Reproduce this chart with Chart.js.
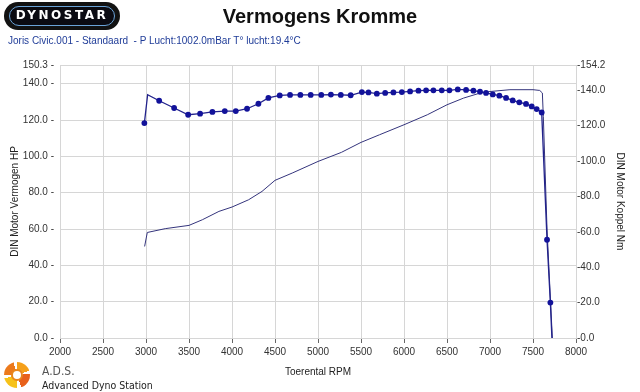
<!DOCTYPE html>
<html><head><meta charset="utf-8">
<script src="https://cdn.jsdelivr.net/npm/chart.js@4.4.1/dist/chart.umd.min.js"></script>
<style>
html,body{margin:0;padding:0;background:#fff;}
#wrap{position:relative;width:640px;height:392px;overflow:hidden;background:#fff;}
#c{position:absolute;left:0;top:0;}
#title{position:absolute;left:0;top:5px;width:640px;text-align:center;font:bold 20px "Liberation Sans",Arial,sans-serif;line-height:22px;color:#111;}
#sub{position:absolute;left:8px;top:35px;font:10px "Liberation Sans",Arial,sans-serif;line-height:12px;color:#1f3c98;white-space:pre;}
#logo{position:absolute;left:4px;top:2px;width:116px;height:28px;border-radius:14px;background:#121212;}
#logo .inner{position:absolute;left:5px;top:4px;right:5px;bottom:4px;border:1.5px solid #6aa3d8;border-radius:10px;background:#0b0b12;color:#fff;font:bold 12px "DejaVu Sans",sans-serif;letter-spacing:2.5px;text-align:center;line-height:17px;}
#ads{position:absolute;left:4px;top:362px;width:26px;height:26px;border-radius:50%;
 background:conic-gradient(#f5a01a 0deg 70deg,#fff 70deg 85deg,#e8611b 85deg 160deg,#fff 160deg 180deg,#f6c21a 180deg 255deg,#fff 255deg 270deg,#ec7a1c 270deg 345deg,#fff 345deg);}
#ads::after{content:"";position:absolute;left:7px;top:7px;width:8px;height:8px;border-radius:50%;background:#fff;border:2px solid #e9861c;}
#ads1{position:absolute;left:42px;top:364px;font:12px "DejaVu Sans Condensed","DejaVu Sans",sans-serif;color:#555;line-height:14px;}
#ads2{position:absolute;left:42px;top:379px;font:10.5px "DejaVu Sans Condensed","DejaVu Sans",sans-serif;color:#222;line-height:12px;}
</style></head>
<body><div id="wrap">
<canvas id="c" width="640" height="392"></canvas>
<div id="logo"><div class="inner">DYNOSTAR</div></div>
<div id="title">Vermogens Kromme</div>
<div id="sub">Joris Civic.001 - Standaard  - P Lucht:1002.0mBar T° lucht:19.4°C</div>
<div id="ads"></div>
<div id="ads1">A.D.S.</div>
<div id="ads2">Advanced Dyno Station</div>
</div>
<script>
// ---- data ----
const rpmTicks = [2000, 2500, 3000, 3500, 4000, 4500, 5000, 5500, 6000, 6500, 7000, 7500, 8000];
const hpTicks = [0, 20, 40, 60, 80, 100, 120, 140, 150.3];
const nmTicks = [0, 20, 40, 60, 80, 100, 120, 140, 154.2];

const torqueRpm = [2981, 3019, 3153, 3327, 3490, 3629, 3772, 3916, 4044, 4175, 4307, 4423, 4555, 4675, 4795, 4915, 5038, 5150, 5265, 5380, 5510, 5587, 5684, 5781, 5877, 5975, 6071, 6168, 6257, 6342, 6439, 6528, 6625, 6722, 6807, 6884, 6954, 7032, 7109, 7187, 7264, 7341, 7419, 7485, 7543, 7601, 7663, 7702, 7720];
const torqueNm = [121.4, 137.4, 134.0, 129.9, 126.1, 126.7, 127.7, 128.2, 128.2, 129.5, 132.3, 135.6, 137.0, 137.3, 137.3, 137.3, 137.3, 137.5, 137.3, 137.1, 138.9, 138.7, 138.0, 138.4, 138.7, 138.9, 139.3, 139.7, 139.9, 139.9, 139.9, 139.9, 140.4, 140.1, 139.7, 139.1, 138.4, 137.6, 136.9, 135.6, 134.2, 133.1, 132.2, 130.8, 129.3, 127.4, 55.5, 20.0, 0.0];

const powerRpm = [2984, 3015, 3224, 3500, 3655, 3848, 4000, 4193, 4349, 4500, 4700, 5000, 5272, 5500, 5716, 6000, 6271, 6500, 6694, 6888, 7000, 7232, 7500, 7578, 7609, 7620, 7663, 7702, 7725];
const powerHp = [50.4, 58.1, 60.2, 62.0, 65.1, 69.7, 72.1, 76.1, 80.7, 86.8, 90.8, 97.2, 102.2, 107.7, 111.9, 117.4, 122.9, 128.4, 132.1, 134.9, 135.7, 136.7, 136.7, 136.3, 134.9, 122.0, 60.0, 22.0, 0.0];

const torquePts = torqueRpm.map((r, i) => ({x: r, y: torqueNm[i]}));
const powerPts = powerRpm.map((r, i) => ({x: r, y: powerHp[i]}));
const lastT = torquePts.length - 1;

const FONT = {family: '"Liberation Sans", Arial, sans-serif', size: 10};
const GRID = '#d6d6d6';

new Chart(document.getElementById('c'), {
  type: 'line',
  data: {
    datasets: [
      {
        label: 'DIN Motor Koppel Nm',
        data: torquePts,
        yAxisID: 'yR',
        borderColor: '#22228c',
        borderWidth: 1.3,
        pointRadius: ctx => (ctx.dataIndex === 1 || ctx.dataIndex === lastT) ? 0 : 2.9,
        pointBackgroundColor: '#12129a',
        pointBorderWidth: 0,
        tension: 0
      },
      {
        label: 'DIN Motor Vermogen HP',
        data: powerPts,
        yAxisID: 'yL',
        borderColor: '#34347c',
        borderWidth: 1,
        pointRadius: 0,
        tension: 0
      }
    ]
  },
  options: {
    responsive: false,
    animation: false,
    layout: {padding: {top: 65, left: 0, right: 0, bottom: 0}},
    plugins: {legend: {display: false}, tooltip: {enabled: false}},
    scales: {
      x: {
        type: 'linear', min: 2000, max: 8000,
        afterBuildTicks: a => { a.ticks = rpmTicks.map(v => ({value: v})); },
        afterFit: s => { s.height = 54; },
        ticks: {font: FONT, color: '#333', padding: 3, maxRotation: 0, callback: v => String(v)},
        grid: {color: GRID, tickColor: '#666', tickLength: 5},
        border: {color: GRID},
        title: {display: true, text: 'Toerental RPM', font: FONT, color: '#222', padding: {top: 0, bottom: 14}}
      },
      yL: {
        position: 'left', min: 0, max: 150.3,
        afterBuildTicks: a => { a.ticks = hpTicks.map(v => ({value: v})); },
        afterFit: s => { s.width = 60; },
        ticks: {font: FONT, color: '#333', padding: 6, callback: v => v.toFixed(1) + ' -'},
        grid: {color: GRID, drawTicks: false},
        border: {color: GRID},
        title: {display: true, text: 'DIN Motor Vermogen HP', font: FONT, color: '#222', padding: {top: 9, bottom: 0}}
      },
      yR: {
        position: 'right', min: 0, max: 154.2,
        afterBuildTicks: a => { a.ticks = nmTicks.map(v => ({value: v})); },
        afterFit: s => { s.width = 64; },
        ticks: {font: FONT, color: '#333', padding: 1, callback: v => '-' + v.toFixed(1)},
        grid: {drawOnChartArea: false, drawTicks: false},
        border: {color: GRID},
        title: {display: true, text: 'DIN Motor Koppel Nm', font: FONT, color: '#222', padding: {top: 14, bottom: 0}}
      }
    }
  }
});
</script>
</body></html>
